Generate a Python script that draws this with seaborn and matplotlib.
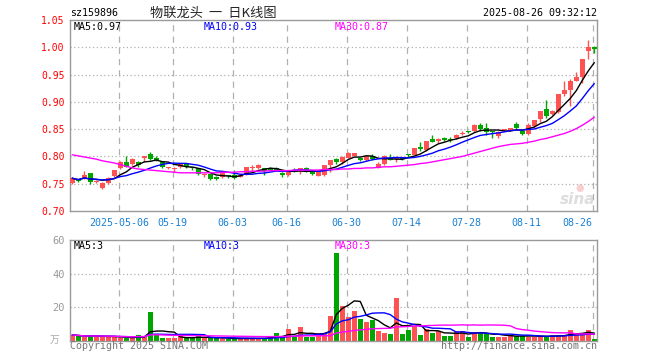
import numpy as np
import pandas as pd
import seaborn as sns
import matplotlib.pyplot as plt

# daily candles, 2025-04-21 .. 2025-08-26 (88 trading days)
opens = [0.752, 0.758, 0.760, 0.769, 0.754, 0.742, 0.751, 0.764, 0.778, 0.790,
         0.786, 0.790, 0.797, 0.804, 0.798, 0.789, 0.779, 0.777, 0.781, 0.787,
         0.779, 0.778, 0.766, 0.767, 0.763, 0.763, 0.765, 0.766, 0.763, 0.768,
         0.778, 0.778, 0.778, 0.778, 0.778, 0.770, 0.766, 0.776, 0.775, 0.778,
         0.772, 0.765, 0.766, 0.784, 0.795, 0.789, 0.798, 0.801, 0.797, 0.793,
         0.801, 0.779, 0.786, 0.798, 0.795, 0.798, 0.803, 0.803, 0.817, 0.812,
         0.832, 0.829, 0.834, 0.832, 0.834, 0.842, 0.846, 0.846, 0.858, 0.852,
         0.845, 0.837, 0.848, 0.848, 0.859, 0.847, 0.842, 0.855, 0.868, 0.886,
         0.878, 0.882, 0.915, 0.921, 0.939, 0.945, 0.993, 1.001]
highs = [0.762, 0.759, 0.773, 0.770, 0.757, 0.753, 0.762, 0.776, 0.792, 0.801,
         0.797, 0.791, 0.800, 0.808, 0.800, 0.791, 0.781, 0.780, 0.788, 0.788,
         0.780, 0.779, 0.769, 0.768, 0.765, 0.773, 0.766, 0.775, 0.768, 0.781,
         0.784, 0.787, 0.779, 0.780, 0.781, 0.771, 0.773, 0.778, 0.779, 0.781,
         0.773, 0.772, 0.785, 0.794, 0.797, 0.800, 0.808, 0.807, 0.798, 0.802,
         0.804, 0.789, 0.802, 0.804, 0.799, 0.799, 0.805, 0.816, 0.826, 0.829,
         0.839, 0.833, 0.836, 0.836, 0.841, 0.846, 0.847, 0.859, 0.861, 0.861,
         0.846, 0.846, 0.851, 0.853, 0.863, 0.848, 0.862, 0.867, 0.884, 0.904,
         0.885, 0.915, 0.938, 0.941, 0.955, 0.978, 1.014, 1.003]
lows = [0.750, 0.754, 0.758, 0.750, 0.752, 0.740, 0.749, 0.763, 0.777, 0.780,
        0.784, 0.781, 0.790, 0.793, 0.791, 0.778, 0.777, 0.772, 0.779, 0.778,
        0.775, 0.766, 0.762, 0.757, 0.757, 0.760, 0.760, 0.759, 0.762, 0.766,
        0.773, 0.777, 0.766, 0.775, 0.774, 0.763, 0.765, 0.772, 0.767, 0.771,
        0.766, 0.764, 0.764, 0.772, 0.787, 0.787, 0.797, 0.800, 0.792, 0.791,
        0.793, 0.778, 0.785, 0.793, 0.790, 0.793, 0.799, 0.802, 0.810, 0.810,
        0.826, 0.825, 0.829, 0.827, 0.832, 0.839, 0.843, 0.844, 0.846, 0.840,
        0.834, 0.834, 0.847, 0.847, 0.850, 0.840, 0.840, 0.853, 0.863, 0.871,
        0.876, 0.880, 0.910, 0.892, 0.938, 0.935, 0.978, 0.990]
closes = [0.760, 0.755, 0.766, 0.754, 0.755, 0.752, 0.760, 0.775, 0.790, 0.781,
          0.795, 0.784, 0.800, 0.795, 0.793, 0.780, 0.780, 0.779, 0.786, 0.780,
          0.778, 0.768, 0.767, 0.758, 0.759, 0.772, 0.764, 0.761, 0.766, 0.780,
          0.779, 0.784, 0.773, 0.776, 0.776, 0.766, 0.772, 0.774, 0.778, 0.773,
          0.768, 0.771, 0.784, 0.793, 0.789, 0.799, 0.807, 0.806, 0.793, 0.801,
          0.796, 0.787, 0.801, 0.794, 0.797, 0.795, 0.802, 0.815, 0.813, 0.828,
          0.827, 0.832, 0.830, 0.831, 0.840, 0.843, 0.845, 0.858, 0.851, 0.844,
          0.844, 0.845, 0.849, 0.852, 0.853, 0.842, 0.857, 0.866, 0.883, 0.874,
          0.884, 0.914, 0.921, 0.939, 0.945, 0.978, 1.001, 0.996]
# 30-day average as drawn (needs history before the visible window)
ma30 = [0.803, 0.801, 0.799, 0.797, 0.795, 0.792, 0.790, 0.788, 0.785, 0.782,
        0.779, 0.777, 0.776, 0.775, 0.774, 0.773, 0.772, 0.771, 0.770, 0.770,
        0.770, 0.770, 0.770, 0.770, 0.770, 0.771, 0.771, 0.771, 0.772, 0.772,
        0.773, 0.773, 0.773, 0.774, 0.774, 0.774, 0.774, 0.775, 0.775, 0.775,
        0.775, 0.775, 0.776, 0.776, 0.776, 0.777, 0.777, 0.778, 0.778, 0.779,
        0.779, 0.780, 0.781, 0.781, 0.782, 0.783, 0.784, 0.785, 0.787, 0.788,
        0.790, 0.792, 0.794, 0.796, 0.798, 0.800, 0.803, 0.806, 0.809, 0.812,
        0.815, 0.818, 0.820, 0.822, 0.823, 0.824, 0.826, 0.828, 0.831, 0.833,
        0.836, 0.839, 0.842, 0.846, 0.851, 0.857, 0.864, 0.872]
# volume in 万手
volumes = [3.6, 3.0, 2.4, 3.0, 2.7, 3.0, 2.4, 2.4, 1.6, 2.0,
           1.6, 3.8, 2.8, 17.0, 4.2, 2.0, 1.6, 1.6, 2.8, 2.0,
           1.6, 2.8, 2.0, 2.0, 1.6, 1.6, 1.2, 1.2, 1.6, 1.6,
           1.6, 1.6, 1.6, 3.0, 4.6, 2.4, 7.2, 2.4, 8.4, 2.4,
           2.4, 4.6, 4.6, 15.0, 52.0, 20.6, 14.0, 17.6, 13.2, 11.0,
           12.6, 6.2, 5.0, 4.4, 25.4, 4.2, 6.6, 9.0, 3.6, 7.0,
           4.8, 5.8, 3.0, 3.0, 6.0, 6.0, 2.6, 5.4, 5.0, 4.6,
           2.6, 2.6, 2.6, 3.6, 3.0, 3.0, 2.6, 2.6, 3.0, 2.6,
           3.4, 3.4, 3.4, 6.6, 4.6, 4.6, 6.6, 1.2]

date_idx = [8, 17, 27, 36, 46, 56, 66, 76, 87]
date_labels = ["2025-05-06", "05-19", "06-03", "06-16", "06-30",
               "07-14", "07-28", "08-11", "08-26"]
price_ticks = [0.70, 0.75, 0.80, 0.85, 0.90, 0.95, 1.00, 1.05]
vol_ticks = [20, 40, 60]

RED = "#ff5252"
GREEN = "#00a600"
GRID = "#b0b0b0"
FRAME = "#9a9a9a"
XBLUE = "#1a80d4"

df = pd.DataFrame({"open": opens, "high": highs, "low": lows,
                   "close": closes, "volume": volumes, "ma30": ma30})
df["i"] = np.arange(len(df))
df["ma5"] = df["close"].rolling(5, min_periods=1).mean()
df["ma10"] = df["close"].rolling(10, min_periods=1).mean()
df["vma5"] = df["volume"].rolling(5, min_periods=1).mean()
df["vma10"] = df["volume"].rolling(10, min_periods=1).mean()
df["vma30"] = df["volume"].rolling(30, min_periods=1).mean()

sns.set_style("white")
plt.rcParams["font.family"] = ["DejaVu Sans Mono", "Noto Sans CJK SC"]

fig = plt.figure(figsize=(6.6, 3.6), dpi=100)
W, H = 660, 360
ax = fig.add_axes([70 / W, 1 - 211 / H, 527 / W, 191 / H])
axv = fig.add_axes([70 / W, 1 - 341 / H, 527 / W, 101 / H])

up = df["close"] >= df["open"]
colors = np.where(up, RED, GREEN)
xlim = (-0.38, 87.45)
grid_x = [d - 0.25 for d in date_idx]

# price panel
for a in (ax, axv):
    for gx in grid_x:
        a.axvline(gx, color=GRID, lw=0.9, ls=(0, (5, 4)), zorder=0)
for yv in price_ticks[1:-1]:
    ax.axhline(yv, color=GRID, lw=0.9, ls=(0, (1, 2)), zorder=0)

ax.vlines(df["i"], df["low"], df["high"], colors=colors, lw=1, zorder=2)
body = (df["close"] - df["open"]).abs().clip(lower=0.0018)
bottom = df[["open", "close"]].min(axis=1)
ax.bar(df["i"], body, bottom=bottom, width=0.8, color=colors, lw=0, zorder=3)

sns.lineplot(data=df, x="i", y="ma5", color="black", lw=1, ax=ax, zorder=4)
sns.lineplot(data=df, x="i", y="ma10", color="#0000ff", lw=1, ax=ax, zorder=4)
sns.lineplot(data=df, x="i", y="ma30", color="#ff00ff", lw=1, ax=ax, zorder=4)

ax.set_xlim(*xlim)
ax.set_ylim(0.70, 1.05)
ax.set_yticks(price_ticks)
ax.set_yticklabels([f"{v:.2f}" for v in price_ticks], color="red", fontsize=7)
ax.set_xticks(grid_x)
ax.set_xticklabels(date_labels, color=XBLUE, fontsize=7.2)
ax.get_xticklabels()[-1].set_ha("right")
ax.tick_params(length=0, pad=4)
ax.tick_params(axis="x", pad=5)
ax.set_xlabel("")
ax.set_ylabel("")

# volume panel
for yv in vol_ticks[:-1]:
    axv.axhline(yv, color=GRID, lw=0.9, ls=(0, (1, 2)), zorder=0)
axv.bar(df["i"], df["volume"], width=0.8, color=colors, lw=0, zorder=2)
sns.lineplot(data=df, x="i", y="vma5", color="black", lw=1, ax=axv, zorder=4)
sns.lineplot(data=df, x="i", y="vma10", color="#0000ff", lw=1, ax=axv, zorder=4)
sns.lineplot(data=df, x="i", y="vma30", color="#ff00ff", lw=1, ax=axv, zorder=4)
axv.set_xlim(*xlim)
axv.set_ylim(0, 60)
axv.set_yticks(vol_ticks)
axv.set_yticklabels([str(v) for v in vol_ticks], color="#999999", fontsize=7.5)
axv.set_xticks([])
axv.tick_params(length=0, pad=4)
axv.set_xlabel("")
axv.set_ylabel("")

for a in (ax, axv):
    for s in a.spines.values():
        s.set_color(FRAME)
        s.set_linewidth(1)
    a.grid(False)

# header and labels
fig.text(70 / W, 1 - 13 / H, "sz159896", fontsize=7.2, va="center", color="black")
fig.text(213 / W, 1 - 13 / H, "物联龙头  一  日K线图", fontsize=9.5, va="center",
         ha="center", family=["Noto Sans CJK SC", "DejaVu Sans"])
fig.text(597 / W, 1 - 13 / H, "2025-08-26 09:32:12", fontsize=7.2, va="center",
         ha="right", color="black")

fig.text(74 / W, 1 - 27 / H, f"MA5:{df['ma5'].iloc[-1]:.2f}", fontsize=7.2,
         va="center", color="black")
fig.text(204 / W, 1 - 27 / H, f"MA10:{df['ma10'].iloc[-1]:.2f}", fontsize=7.2,
         va="center", color="#0000ff")
fig.text(335 / W, 1 - 27 / H, f"MA30:{ma30[-1]:.2f}", fontsize=7.2,
         va="center", color="#ff00ff")

fig.text(74 / W, 1 - 246 / H, "MA5:3", fontsize=7.2, va="center", color="black")
fig.text(204 / W, 1 - 246 / H, "MA10:3", fontsize=7.2, va="center", color="#0000ff")
fig.text(335 / W, 1 - 246 / H, "MA30:3", fontsize=7.2, va="center", color="#ff00ff")

fig.text(55 / W, 1 - 340 / H, "万", fontsize=7, va="center", ha="center",
         color="#aaaaaa", family=["Noto Sans CJK SC", "DejaVu Sans"])
fig.text(70 / W, 1 - 346 / H, "Copyright 2025 SINA.COM", fontsize=7.2,
         va="center", color="#777777")
fig.text(597 / W, 1 - 346 / H, "http://finance.sina.com.cn", fontsize=7.2,
         va="center", ha="right", color="#777777")

# faint sina watermark
fig.text(578 / W, 1 - 200 / H, "sina", fontsize=11, style="italic", weight="bold",
         va="center", ha="center", color="#aaaaaa", alpha=0.4,
         family="DejaVu Sans")
fig.text(580 / W, 1 - 188 / H, "●", fontsize=7, va="center", ha="center",
         color="#f3a0a0", alpha=0.5, family="DejaVu Sans")

fig.savefig("out.png", dpi=100)
